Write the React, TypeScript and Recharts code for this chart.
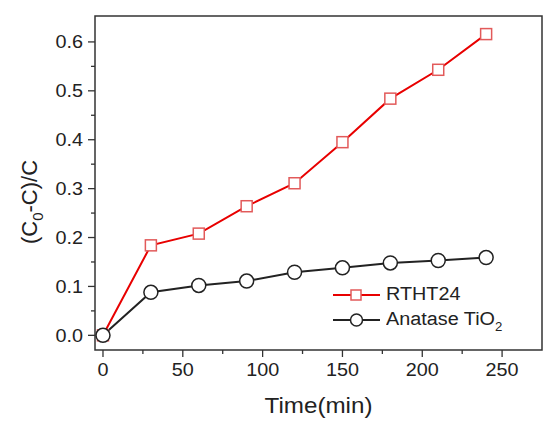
import { LineChart, Line, XAxis, YAxis, Legend, ReferenceArea, Label } from 'recharts';

const TIME = [0, 30, 60, 90, 120, 150, 180, 210, 240];
const RTHT24 = [0, 0.184, 0.208, 0.264, 0.311, 0.395, 0.484, 0.543, 0.616];
const ANATASE = [0, 0.088, 0.102, 0.111, 0.129, 0.138, 0.148, 0.153, 0.159];

const X_MAJOR = [0, 50, 100, 150, 200, 250];
const X_MINOR = [25, 75, 125, 175, 225];
const Y_MAJOR = [0, 0.1, 0.2, 0.3, 0.4, 0.5, 0.6];
const Y_MINOR = [0.05, 0.15, 0.25, 0.35, 0.45, 0.55];

const X_DOMAIN = [-5, 275];
const Y_DOMAIN = [-0.03, 0.653];

const FONT = '"Liberation Sans", Arial, sans-serif';
const RED = '#e80000';
const RED_MARK = '#e25a5a';
const INK = '#222';
const FRAME = '#333';
const STRETCH = 1.1;

const data = TIME.map((t, i) => ({ t, rtht: RTHT24[i], anatase: ANATASE[i] }));

// eslint-disable-next-line @typescript-eslint/no-explicit-any
function XTick({ x, y, payload }: any) {
  const major = X_MAJOR.includes(payload.value);
  return (
    <g>
      <line x1={x} x2={x} y1={y} y2={y + (major ? 7 : 4)} stroke={FRAME} strokeWidth={1.3} />
      {major && (
        <text
          transform={`translate(${x},${y + 26}) scale(${STRETCH},1)`}
          textAnchor="middle"
          fontFamily={FONT}
          fontSize={18}
          fill={INK}
        >
          {String(payload.value)}
        </text>
      )}
    </g>
  );
}

// eslint-disable-next-line @typescript-eslint/no-explicit-any
function YTick({ x, y, payload }: any) {
  const major = Y_MAJOR.includes(payload.value);
  return (
    <g>
      <line x1={x} x2={x - (major ? 7 : 4)} y1={y} y2={y} stroke={FRAME} strokeWidth={1.3} />
      {major && (
        <text
          transform={`translate(${x - 12},${y + 6.5}) scale(${STRETCH},1)`}
          textAnchor="end"
          fontFamily={FONT}
          fontSize={18}
          fill={INK}
        >
          {payload.value.toFixed(1)}
        </text>
      )}
    </g>
  );
}

// eslint-disable-next-line @typescript-eslint/no-explicit-any
function SquareDot({ cx, cy }: any) {
  return <rect x={cx - 5.5} y={cy - 5.5} width={11} height={11} fill="#fff" stroke={RED_MARK} strokeWidth={1.5} />;
}

// eslint-disable-next-line @typescript-eslint/no-explicit-any
function CircleDot({ cx, cy }: any) {
  return <circle cx={cx} cy={cy} r={7} fill="#fff" stroke={INK} strokeWidth={1.5} />;
}

// eslint-disable-next-line @typescript-eslint/no-explicit-any
function XTitle({ viewBox }: any) {
  const cx = viewBox ? viewBox.x + viewBox.width / 2 : 318;
  const by = viewBox ? viewBox.y + 63 : 413;
  return (
    <text transform={`translate(${cx},${by}) scale(${STRETCH},1)`} textAnchor="middle" fontFamily={FONT} fontSize={22} fill={INK}>
      Time(min)
    </text>
  );
}

// eslint-disable-next-line @typescript-eslint/no-explicit-any
function YTitle({ viewBox }: any) {
  const bx = viewBox ? viewBox.x + 12 : 37;
  const cy = viewBox ? viewBox.y + viewBox.height / 2 + 19 : 202;
  return (
    <text transform={`translate(${bx},${cy}) rotate(-90)`} textAnchor="middle" fontFamily={FONT} fontSize={22} fill={INK}>
      (C<tspan fontSize={15} dy={6}>0</tspan>
      <tspan dy={-6}>-C)/C</tspan>
    </text>
  );
}

function LegendBox() {
  const rows = [
    { key: 'rtht', color: RED, marker: 'square', label: <>RTHT24</> },
    {
      key: 'anatase',
      color: INK,
      marker: 'circle',
      label: (
        <>
          Anatase TiO
          <span style={{ fontSize: 12, position: 'relative', top: 6 }}>2</span>
        </>
      ),
    },
  ];
  return (
    <div style={{ fontFamily: FONT, fontSize: 18, color: INK }}>
      {rows.map(r => (
        <div key={r.key} style={{ display: 'flex', alignItems: 'center', height: 25 }}>
          <svg width={53} height={20} style={{ display: 'block' }}>
            <line x1={0} x2={47} y1={10} y2={10} stroke={r.color} strokeWidth={2} />
            {r.marker === 'square' ? (
              <rect x={18} y={5} width={10} height={10} fill="#fff" stroke={RED_MARK} strokeWidth={1.5} />
            ) : (
              <circle cx={23.5} cy={10} r={6} fill="#fff" stroke={INK} strokeWidth={1.5} />
            )}
          </svg>
          <span style={{ display: 'inline-block', transform: `scaleX(${STRETCH})`, transformOrigin: 'left center', whiteSpace: 'nowrap' }}>
            {r.label}
          </span>
        </div>
      ))}
    </div>
  );
}

export default function App() {
  return (
    <div style={{ position: 'absolute', left: 0, top: 0, width: 547, height: 421, background: '#fff' }}>
      <LineChart width={547} height={421} data={data} margin={{ top: 16, right: 5, bottom: 11, left: 25 }}>
        <XAxis
          dataKey="t"
          type="number"
          domain={X_DOMAIN}
          ticks={[...X_MAJOR, ...X_MINOR].sort((a, b) => a - b)}
          interval={0}
          tickSize={0}
          tickMargin={0}
          tickLine={false}
          axisLine={false}
          tick={<XTick />}
          height={60}
        >
          <Label content={<XTitle />} />
        </XAxis>
        <YAxis
          type="number"
          domain={Y_DOMAIN}
          ticks={[...Y_MAJOR, ...Y_MINOR].sort((a, b) => a - b)}
          interval={0}
          tickSize={0}
          tickMargin={0}
          tickLine={false}
          axisLine={false}
          tick={<YTick />}
          width={70}
          allowDataOverflow
        >
          <Label content={<YTitle />} />
        </YAxis>
        <ReferenceArea
          x1={X_DOMAIN[0]}
          x2={X_DOMAIN[1]}
          y1={Y_DOMAIN[0]}
          y2={Y_DOMAIN[1]}
          fill="none"
          fillOpacity={0}
          stroke={FRAME}
          strokeWidth={1.5}
          ifOverflow="visible"
        />
        <Legend
          layout="vertical"
          align="center"
          verticalAlign="middle"
          content={<LegendBox />}
          wrapperStyle={{ left: 333, top: 282, width: 200 }}
        />
        <Line
          dataKey="rtht"
          stroke={RED}
          strokeWidth={2}
          dot={<SquareDot />}
          activeDot={false}
          isAnimationActive={false}
        />
        <Line
          dataKey="anatase"
          stroke={INK}
          strokeWidth={2}
          dot={<CircleDot />}
          activeDot={false}
          isAnimationActive={false}
        />
      </LineChart>
    </div>
  );
}
